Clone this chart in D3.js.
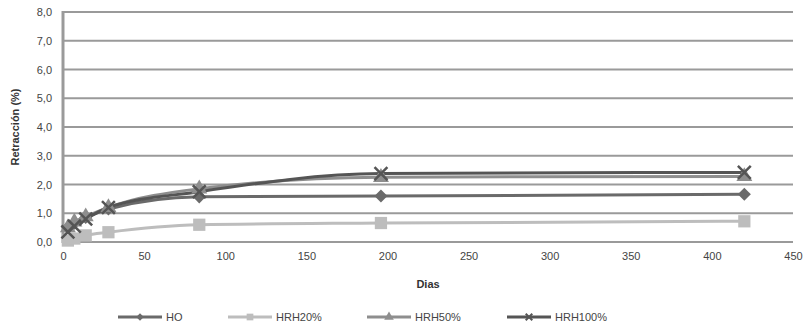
<!DOCTYPE html>
<html>
<head>
<meta charset="utf-8">
<script src="https://cdn.jsdelivr.net/npm/d3@7"></script>
<style>
  body { margin: 0; background: #fff; }
  svg { display: block; font-family: "Liberation Sans", Arial, sans-serif; }
</style>
</head>
<body>
<svg id="chart" width="807" height="331"></svg>
<script>
// data
const days = [3, 7, 14, 28, 84, 196, 420];
const hoValues = [0.5, 0.65, 0.85, 1.15, 1.57, 1.6, 1.66];
const hrh20Values = [0.05, 0.12, 0.23, 0.34, 0.6, 0.66, 0.72];
const hrh50Values = [0.5, 0.7, 0.88, 1.2, 1.85, 2.25, 2.28];
const hrh100Values = [0.35, 0.55, 0.8, 1.2, 1.75, 2.38, 2.42];
const seriesNames = ['HO', 'HRH20%', 'HRH50%', 'HRH100%'];
const yTicks = [0, 1, 2, 3, 4, 5, 6, 7, 8];
const xTicks = [0, 50, 100, 150, 200, 250, 300, 350, 400, 450];

const series = [
  { name: seriesNames[0], values: hoValues, color: '#6a6a6a', symbol: 'diamond' },
  { name: seriesNames[1], values: hrh20Values, color: '#bdbdbd', symbol: 'square' },
  { name: seriesNames[2], values: hrh50Values, color: '#8e8e8e', symbol: 'triangle' },
  { name: seriesNames[3], values: hrh100Values, color: '#555555', symbol: 'x' }
];

const symbolType = {
  diamond: d3.symbolSquare,
  square: d3.symbolSquare,
  triangle: d3.symbolTriangle,
  x: d3.symbolX
};

const svg = d3.select('#chart');
const margin = { top: 12, right: 14, bottom: 89, left: 63 };
const width = 807, height = 331;

const x = d3.scaleLinear().domain([0, 450]).range([margin.left, width - margin.right]);
const y = d3.scaleLinear().domain([0, 8]).range([height - margin.bottom, margin.top]);

// gridlines
svg.append('g')
  .selectAll('line')
  .data(yTicks)
  .enter()
  .append('line')
  .attr('x1', x(0))
  .attr('x2', x(450))
  .attr('y1', d => y(d))
  .attr('y2', d => y(d))
  .attr('stroke', '#9a9a9a')
  .attr('stroke-width', 2);

// y axis line
svg.append('line')
  .attr('x1', x(0)).attr('x2', x(0))
  .attr('y1', y(8) - 1).attr('y2', y(0) + 1)
  .attr('stroke', '#9a9a9a')
  .attr('stroke-width', 3);

const fmt = d => d.toFixed(1).replace('.', ',');

const yAxis = svg.append('g')
  .attr('transform', `translate(${x(0)},0)`)
  .call(d3.axisLeft(y).tickValues(yTicks).tickFormat(fmt).tickSize(0).tickPadding(11));
yAxis.select('.domain').remove();
yAxis.selectAll('text').attr('font-size', 11).attr('fill', '#444').attr('font-family', '"Liberation Sans", Arial, sans-serif');

const xAxis = svg.append('g')
  .attr('transform', `translate(0,${y(0)})`)
  .call(d3.axisBottom(x).tickValues(xTicks).tickFormat(d3.format('d')).tickSize(0).tickPadding(10));
xAxis.select('.domain').remove();
xAxis.selectAll('text').attr('font-size', 11).attr('fill', '#444').attr('font-family', '"Liberation Sans", Arial, sans-serif');

// axis titles
svg.append('text')
  .attr('transform', `translate(19,${(y(0) + y(8)) / 2}) rotate(-90)`)
  .attr('text-anchor', 'middle')
  .attr('font-size', 11)
  .attr('font-weight', 'bold')
  .attr('fill', '#333')
  .text('Retracción (%)');

svg.append('text')
  .attr('x', (x(0) + x(450)) / 2)
  .attr('y', 288)
  .attr('text-anchor', 'middle')
  .attr('font-size', 11)
  .attr('font-weight', 'bold')
  .attr('fill', '#333')
  .text('Dias');

const line = d3.line()
  .x(d => x(d[0]))
  .y(d => y(d[1]))
  .curve(d3.curveMonotoneX);

series.forEach(s => {
  const pts = days.map((d, i) => [d, s.values[i]]);
  svg.append('path')
    .datum(pts)
    .attr('fill', 'none')
    .attr('stroke', s.color)
    .attr('stroke-width', 3)
    .attr('d', line);
});

function markerPath(sym, big) {
  const sizes = big
    ? { diamond: 85, square: 150, triangle: 110, x: 110 }
    : { diamond: 28, square: 45, triangle: 40, x: 30 };
  return d3.symbol().type(symbolType[sym]).size(sizes[sym])();
}

function markerTransform(sym, px, py) {
  return sym === 'diamond'
    ? `translate(${px},${py}) rotate(45)`
    : `translate(${px},${py})`;
}

series.forEach(s => {
  const pts = days.map((d, i) => [d, s.values[i]]);
  const isX = s.symbol === 'x';
  svg.append('g')
    .selectAll('path')
    .data(pts)
    .enter()
    .append('path')
    .attr('transform', d => markerTransform(s.symbol, x(d[0]), y(d[1])))
    .attr('d', markerPath(s.symbol, true))
    .attr('fill', isX ? 'none' : s.color)
    .attr('stroke', s.color)
    .attr('stroke-width', isX ? 2.5 : 0);
});

// legend
const legendX = [118, 228, 367, 507];
const legendY = 317;
series.forEach((s, i) => {
  const isX = s.symbol === 'x';
  const g = svg.append('g').attr('transform', `translate(${legendX[i]},${legendY})`);
  g.append('line')
    .attr('x1', 0).attr('x2', 44)
    .attr('y1', 0).attr('y2', 0)
    .attr('stroke', s.color)
    .attr('stroke-width', 3);
  g.append('path')
    .attr('transform', markerTransform(s.symbol, 22, 0))
    .attr('d', markerPath(s.symbol, false))
    .attr('fill', isX ? 'none' : s.color)
    .attr('stroke', s.color)
    .attr('stroke-width', isX ? 2 : 0);
  g.append('text')
    .attr('x', 48)
    .attr('y', 4)
    .attr('font-size', 11)
    .attr('fill', '#444')
    .text(s.name);
});
</script>
</body>
</html>
